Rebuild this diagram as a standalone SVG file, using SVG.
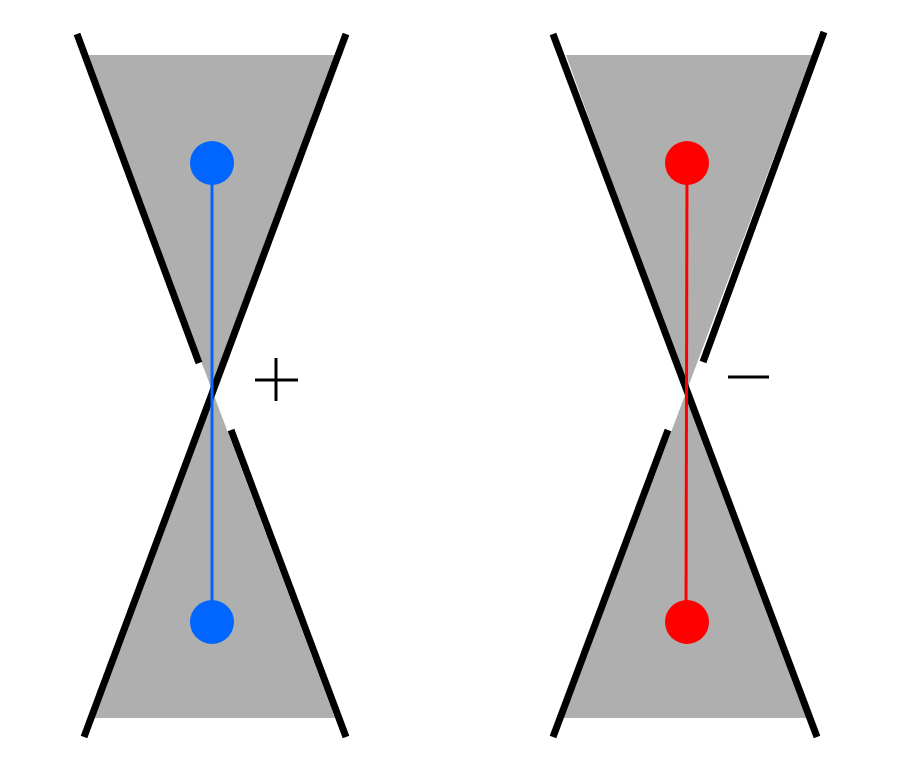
<svg xmlns="http://www.w3.org/2000/svg" width="904" height="768" viewBox="0 0 904 768">
<style>.g{fill:#afafaf}.k{stroke:#000;stroke-width:7;fill:none}.s{stroke:#000;stroke-width:3}</style>
<rect width="904" height="768" fill="#fff"/>
<g id="left">
<polygon class="g" points="85,55 336,55 212,390"/>
<polygon class="g" points="93,718 335,718 212,390"/>
<line class="k" x1="346" y1="34" x2="84" y2="737"/>
<line class="k" x1="77" y1="34" x2="199" y2="363"/>
<line class="k" x1="231" y1="430" x2="346" y2="737"/>
</g>
<g id="right">
<polygon class="g" points="566,55 812,55 687,390"/>
<polygon class="g" points="563,718 808,718 687,390"/>
<line class="k" x1="553" y1="34" x2="817" y2="737"/>
<line class="k" x1="824" y1="32" x2="703" y2="362"/>
<line class="k" x1="668" y1="430" x2="553" y2="737"/>
</g>
<g id="connectors">
<line x1="212" y1="163" x2="212" y2="622" stroke="#0066ff" stroke-width="3"/>
<line x1="687" y1="163" x2="686" y2="622" stroke="#ff0000" stroke-width="3"/>
</g>
<g id="nodes">
<circle cx="212" cy="163" r="22" fill="#0066ff"/>
<circle cx="212" cy="622" r="22" fill="#0066ff"/>
<circle cx="687" cy="163" r="22" fill="#ff0000"/>
<circle cx="687" cy="622" r="22" fill="#ff0000"/>
</g>
<g id="signs">
<line class="s" x1="255" y1="380" x2="298" y2="380"/>
<line class="s" x1="276" y1="358" x2="276" y2="401"/>
<line class="s" x1="728" y1="377" x2="769" y2="377"/>
</g>
</svg>
